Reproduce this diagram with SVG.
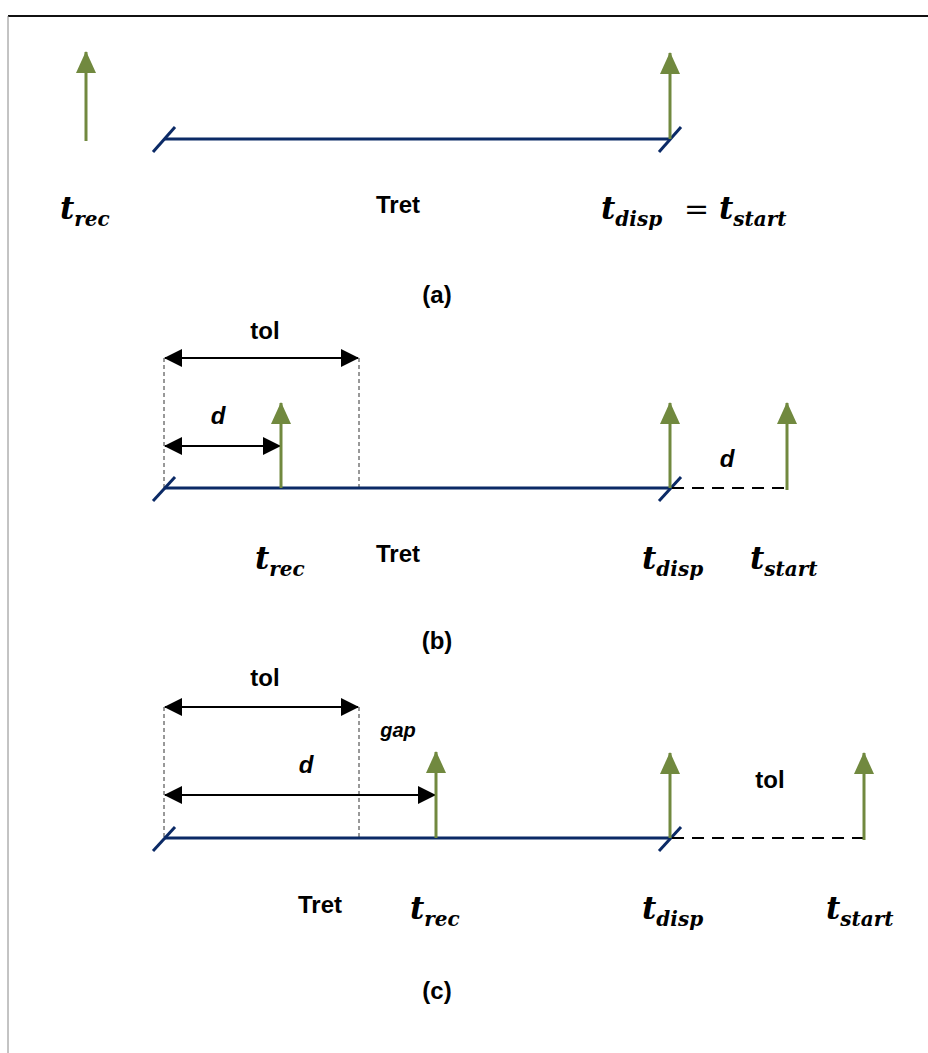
<svg xmlns="http://www.w3.org/2000/svg" width="928" height="1053" viewBox="0 0 928 1053">
<style>
.axis{stroke:#0b2a66;stroke-width:3;fill:none}
.slash{stroke:#0b2a66;stroke-width:3;fill:none}
.ev{stroke:#71893f;stroke-width:3;fill:none;marker-end:url(#gh)}
.dim{stroke:#000;stroke-width:2;fill:none;marker-start:url(#bh);marker-end:url(#bh)}
.vdash{stroke:#333;stroke-width:1;stroke-dasharray:4,3;fill:none}
.hdash{stroke:#000;stroke-width:2;stroke-dasharray:12,8;fill:none}
.lbl{font-family:"Liberation Sans",Arial,sans-serif;font-weight:bold;font-size:24px;fill:#000;text-anchor:middle}
.it{font-style:italic}
.m{font-family:"DejaVu Serif","Liberation Serif",serif;font-weight:bold;font-style:italic;font-size:31px;fill:#000}
.s{font-size:20px}
.eq{font-family:"DejaVu Serif","Liberation Serif",serif;font-size:30px;fill:#000}
</style>
<defs>
<marker id="gh" markerUnits="userSpaceOnUse" markerWidth="22" markerHeight="20" refX="21" refY="10" orient="auto" viewBox="0 0 22 20">
<path d="M0,0 L22,10 L0,20 z" fill="#71893f"/>
</marker>
<marker id="bh" markerUnits="userSpaceOnUse" markerWidth="18" markerHeight="18" refX="17" refY="9" orient="auto-start-reverse" viewBox="0 0 18 18">
<path d="M0,0 L18,9 L0,18 z" fill="#000"/>
</marker>
</defs>
<rect x="0" y="0" width="928" height="1053" fill="#fff"/>
<g id="frame">
<line x1="8" y1="16" x2="928" y2="16" stroke="#111" stroke-width="2"/>
<line x1="8" y1="16" x2="8" y2="1053" stroke="#888" stroke-width="1"/>
</g>

<g id="connectors">
<!-- (a) -->
<line class="axis" x1="164" y1="139" x2="670" y2="139"/>
<line class="slash" x1="153" y1="152" x2="175" y2="127"/>
<line class="slash" x1="659" y1="152" x2="681" y2="127"/>
<line class="ev" x1="86" y1="141" x2="86" y2="52"/>
<line class="ev" x1="670" y1="139" x2="670" y2="53"/>
<!-- (b) -->
<line class="vdash" x1="164" y1="358" x2="164" y2="488"/>
<line class="vdash" x1="359" y1="358" x2="359" y2="488"/>
<line class="axis" x1="164" y1="488" x2="670" y2="488"/>
<line class="slash" x1="153" y1="501" x2="175" y2="477"/>
<line class="slash" x1="659" y1="501" x2="681" y2="477"/>
<line class="hdash" x1="672" y1="488" x2="787" y2="488"/>
<line class="dim" x1="165" y1="358" x2="358" y2="358"/>
<line class="dim" x1="165" y1="446" x2="280" y2="446"/>
<line class="ev" x1="281" y1="488" x2="281" y2="403"/>
<line class="ev" x1="670" y1="488" x2="670" y2="403"/>
<line class="ev" x1="787" y1="490" x2="787" y2="403"/>
<!-- (c) -->
<line class="vdash" x1="164" y1="707" x2="164" y2="838"/>
<line class="vdash" x1="359" y1="707" x2="359" y2="838"/>
<line class="axis" x1="164" y1="838" x2="670" y2="838"/>
<line class="slash" x1="153" y1="851" x2="175" y2="827"/>
<line class="slash" x1="659" y1="851" x2="681" y2="827"/>
<line class="hdash" x1="672" y1="838" x2="864" y2="838"/>
<line class="dim" x1="165" y1="707" x2="358" y2="707"/>
<line class="dim" x1="165" y1="795" x2="435" y2="795"/>
<line class="ev" x1="436" y1="838" x2="436" y2="752"/>
<line class="ev" x1="670" y1="838" x2="670" y2="753"/>
<line class="ev" x1="864" y1="840" x2="864" y2="753"/>
</g>

<g id="panel-a">
<g id="a-trec"><text class="m" x="60" y="219">t<tspan class="s" dy="7">rec</tspan></text></g>
<g id="a-tret"><text class="lbl" x="398" y="213">Tret</text></g>
<g id="a-tdisp"><text class="m" x="601" y="219">t<tspan class="s" dy="7">disp</tspan></text><text class="eq" x="684" y="219">=</text><text class="m" x="719" y="219">t<tspan class="s" dy="7">start</tspan></text></g>
<g id="a-caption"><text class="lbl" x="437" y="303">(a)</text></g>
</g>

<g id="panel-b">
<g id="b-tol"><text class="lbl" x="265" y="339">tol</text></g>
<g id="b-d"><text class="lbl it" x="218" y="424">d</text></g>
<g id="b-d2"><text class="lbl it" x="727" y="467">d</text></g>
<g id="b-trec"><text class="m" x="255" y="569">t<tspan class="s" dy="7">rec</tspan></text></g>
<g id="b-tret"><text class="lbl" x="398" y="562">Tret</text></g>
<g id="b-tdisp"><text class="m" x="642" y="569">t<tspan class="s" dy="7">disp</tspan></text></g>
<g id="b-tstart"><text class="m" x="750" y="569">t<tspan class="s" dy="7">start</tspan></text></g>
<g id="b-caption"><text class="lbl" x="437" y="649">(b)</text></g>
</g>

<g id="panel-c">
<g id="c-tol"><text class="lbl" x="265" y="686">tol</text></g>
<g id="c-gap"><text class="lbl it" x="398" y="737" style="font-size:20px">gap</text></g>
<g id="c-d"><text class="lbl it" x="306" y="773">d</text></g>
<g id="c-tol2"><text class="lbl" x="770" y="788">tol</text></g>
<g id="c-tret"><text class="lbl" x="320" y="913">Tret</text></g>
<g id="c-trec"><text class="m" x="410" y="919">t<tspan class="s" dy="7">rec</tspan></text></g>
<g id="c-tdisp"><text class="m" x="642" y="919">t<tspan class="s" dy="7">disp</tspan></text></g>
<g id="c-tstart"><text class="m" x="826" y="919">t<tspan class="s" dy="7">start</tspan></text></g>
<g id="c-caption"><text class="lbl" x="437" y="999">(c)</text></g>
</g>
</svg>
